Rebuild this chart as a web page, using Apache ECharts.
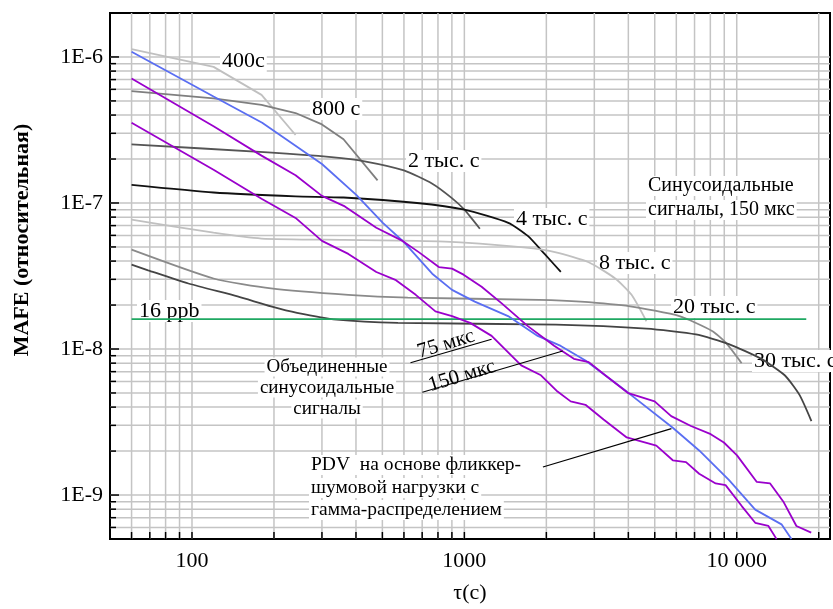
<!DOCTYPE html>
<html>
<head>
<meta charset="utf-8">
<script src="https://cdn.jsdelivr.net/npm/echarts@6/dist/echarts.min.js"></script>
<style>
html,body{margin:0;padding:0;background:#fff;}
#chart{width:833px;height:609px;}
</style>
</head>
<body>
<div id="chart"></div>
<script>
// ---- axis ranges and tick/grid values ----
const X_MIN = 50, X_MAX = 22000;
const Y_MIN = 5e-10, Y_MAX = 2e-6;
const X_GRID = [60,70,80,90,100,200,300,400,500,600,700,800,900,1000,2000,3000,4000,5000,6000,7000,8000,9000,10000,20000];
const Y_GRID = [6e-10,7e-10,8e-10,9e-10,1e-9,2e-9,3e-9,4e-9,5e-9,6e-9,7e-9,8e-9,9e-9,1e-8,2e-8,3e-8,4e-8,5e-8,6e-8,7e-8,8e-8,9e-8,1e-7,2e-7,3e-7,4e-7,5e-7,6e-7,7e-7,8e-7,9e-7,1e-6];
const X_LABELS = {2:'100', 3:'1000', 4:'10 000'};
const Y_LABELS = {'-6':'1E-6','-7':'1E-7','-8':'1E-8','-9':'1E-9'};

// ---- series data: [tau (s), MAFE] ----
const s400 = [[60,1.13e-6],[120,8.55e-7],[180,5.5e-7],[240,2.92e-7]];
const s800 = [[60,5.84e-7],[120,5.2e-7],[180,4.7e-7],[240,4.13e-7],[300,3.45e-7],[360,2.73e-7],[480,1.43e-7]];
const s2k = [[60,2.52e-7],[190,2.22e-7],[325,2.06e-7],[430,1.93e-7],[600,1.67e-7],[760,1.36e-7],[900,1.08e-7],[1000,9.0e-8],[1140,6.66e-8]];
const s4k = [[60,1.33e-7],[120,1.18e-7],[240,1.11e-7],[360,1.09e-7],[670,1.0e-7],[1000,9.0e-8],[1450,7.31e-8],[1710,5.95e-8],[1970,4.48e-8],[2260,3.37e-8]];
const s8k = [[60,7.7e-8],[120,6.26e-8],[180,5.71e-8],[360,5.59e-8],[670,5.5e-8],[1000,5.36e-8],[1650,4.96e-8],[2170,4.59e-8],[2860,3.93e-8],[3580,3.04e-8],[4110,2.35e-8],[4660,1.55e-8]];
const s20k = [[60,4.79e-8],[120,3.04e-8],[195,2.6e-8],[375,2.35e-8],[620,2.25e-8],[1880,2.17e-8],[2670,2.11e-8],[4060,1.96e-8],[6160,1.68e-8],[8120,1.33e-8],[9100,1.11e-8],[10420,8.0e-9]];
const s30k = [[60,3.78e-8],[69,3.46e-8],[97,2.81e-8],[147,2.29e-8],[195,1.96e-8],[243,1.77e-8],[340,1.59e-8],[570,1.51e-8],[2170,1.47e-8],[4660,1.38e-8],[7080,1.26e-8],[9360,1.08e-8],[12300,8.56e-9],[15000,6.61e-9],[17000,4.85e-9],[18800,3.21e-9]];
const ppb16 = [[60,1.6e-8],[18000,1.6e-8]];
const sPDV = [[60,1.085e-6],[120,5.36e-7],[181,3.54e-7],[300,1.85e-7],[401,1.135e-7],[502,7.31e-8],[602,5.36e-8],[762,3.28e-8],[901,2.54e-8],[1092,2.11e-8],[1447,1.68e-8],[1859,1.23e-8],[2259,1.05e-8],[2784,8.34e-9],[3945,5.11e-9],[5823,2.89e-9],[7279,2.02e-9],[9355,1.27e-9],[11690,7.95e-10],[14600,6.3e-10],[15880,5.0e-10]];
const s150us = [[60,7.11e-7],[120,3.35e-7],[180,2.11e-7],[240,1.55e-7],[300,1.118e-7],[364,9.47e-8],[475,6.77e-8],[593,5.5e-8],[682,4.59e-8],[806,3.64e-8],[901,3.55e-8],[993,3.23e-8],[1157,2.67e-8],[1368,2.06e-8],[1710,1.435e-8],[2136,1.052e-8],[2524,8.56e-9],[2862,8.13e-9],[3290,6.61e-9],[4000,4.98e-9],[4995,4.38e-9],[5745,3.47e-9],[6790,2.97e-9],[8027,2.61e-9],[8970,2.29e-9],[10025,1.87e-9],[11850,1.23e-9],[13260,1.2e-9],[14815,9.04e-10],[16560,6.14e-10],[18770,5.53e-10]];
const s75us = [[60,3.54e-7],[120,1.69e-7],[180,1.07e-7],[240,7.9e-8],[300,5.5e-8],[375,4.48e-8],[475,3.37e-8],[561,2.96e-8],[663,2.35e-8],[783,1.81e-8],[901,1.68e-8],[1050,1.51e-8],[1259,1.23e-8],[1617,7.72e-9],[1911,6.61e-9],[2198,5.11e-9],[2456,4.38e-9],[2784,4.15e-9],[3244,3.29e-9],[3945,2.48e-9],[5068,2.18e-9],[5825,1.73e-9],[6514,1.68e-9],[7279,1.4e-9],[8368,1.2e-9],[9100,1.17e-9],[10450,8.37e-10],[11690,6.46e-10],[13070,6.14e-10],[14005,4.99e-10]];

// annotation leader lines (data coordinates)
const lead75 = [[634,8.05e-9],[1259,1.167e-8]];
const lead150 = [[701,5.06e-9],[2297,9.69e-9]];
const leadPDV = [[1943,1.556e-9],[5757,2.85e-9]];

const FONT = 'Liberation Serif';
const GRID_COLOR = '#c4c4c4';

function isDecade(v){ const e = Math.log10(v); return Math.abs(e - Math.round(e)) < 1e-6; }

function gridX(params, api){
  const v = api.value(0);
  const p0 = api.coord([v, Y_MIN]);
  const p1 = api.coord([v, Y_MAX]);
  return {type:'group', children:[
    {type:'line', shape:{x1:p0[0],y1:p0[1],x2:p1[0],y2:p1[1]}, style:{stroke:GRID_COLOR,lineWidth:1.5}},
    {type:'line', shape:{x1:p0[0],y1:p0[1],x2:p0[0],y2:p0[1]-7}, style:{stroke:'#000',lineWidth:1.5}}
  ]};
}
function gridY(params, api){
  const v = api.value(1);
  const p0 = api.coord([X_MIN, v]);
  const p1 = api.coord([X_MAX, v]);
  const len = isDecade(v) ? 9 : 6;
  return {type:'group', children:[
    {type:'line', shape:{x1:p0[0],y1:p0[1],x2:p1[0],y2:p1[1]}, style:{stroke:GRID_COLOR,lineWidth:1.5}},
    {type:'line', shape:{x1:p0[0],y1:p0[1],x2:p0[0]+len,y2:p0[1]}, style:{stroke:'#000',lineWidth:1.5}}
  ]};
}

function lineSeries(data, color, smooth, width){
  return {type:'line', data:data, symbol:'none', smooth:smooth||false, z:4,
    lineStyle:{color:color, width:width||1.8}, silent:true};
}

const chart = echarts.init(document.getElementById('chart'), null, {renderer:'canvas'});

function txt(text, x, y, opts){
  opts = opts || {};
  return {type:'text', z:3, x:x, y:y, rotation:opts.rot||0,
    style:{text:text, fill:'#000', font:(opts.weight||'normal')+' '+(opts.size||20)+'px "'+FONT+'"',
      textAlign:opts.align||'left', textVerticalAlign:'middle',
      backgroundColor:opts.bg===false?null:'#fff', padding:opts.bg===false?0:[0,2]}};
}

const option = {
  animation:false,
  backgroundColor:'#fff',
  grid:{left:110, top:13, width:728, height:536, show:true, borderColor:'#000', borderWidth:2, backgroundColor:'transparent'},
  xAxis:{type:'log', logBase:10, min:X_MIN, max:X_MAX,
    axisLine:{show:true, lineStyle:{color:'#000', width:2}},
    axisTick:{show:false}, splitLine:{show:false}, minorTick:{show:false},
    axisLabel:{margin:11, color:'#000', fontFamily:FONT, fontSize:22,
      formatter:function(v){ if(!isDecade(v)) return ''; return X_LABELS[Math.round(Math.log10(v))] || ''; }},
    name:'τ(с)', nameLocation:'middle', nameGap:43,
    nameTextStyle:{color:'#000', fontFamily:FONT, fontSize:22}
  },
  yAxis:{type:'log', logBase:10, min:Y_MIN, max:Y_MAX,
    axisLine:{show:true, lineStyle:{color:'#000', width:2}},
    axisTick:{show:false}, splitLine:{show:false}, minorTick:{show:false},
    axisLabel:{margin:7, color:'#000', fontFamily:FONT, fontSize:22,
      formatter:function(v){ if(!isDecade(v)) return ''; return Y_LABELS[String(Math.round(Math.log10(v)))] || ''; }}
  },
  graphic:[
    txt('MAFE (относительная)', 22, 240, {rot:Math.PI/2, weight:'bold', size:22, align:'center', bg:false}),
    txt('400с', 220, 61, {size:22}),
    txt('800 с', 310, 109, {size:22}),
    txt('2 тыс. с', 406, 161, {size:22}),
    txt('4 тыс. с', 514, 219, {size:22}),
    txt('8 тыс. с', 597, 263, {size:22}),
    txt('Синусоидальные', 646, 186),
    txt('сигналы, 150 мкс', 646, 210),
    txt('16 ppb', 137, 311, {size:22}),
    txt('20 тыс. с', 671, 307, {size:22}),
    txt('30 тыс. с', 752, 361, {size:22}),
    txt('Объединенные', 327, 367, {align:'center', size:19}),
    txt('синусоидальные', 327, 388, {align:'center', size:19}),
    txt('сигналы', 327, 409, {align:'center', size:19}),
    txt('75 мкс', 446, 344, {align:'center', size:21, rot:17*Math.PI/180, bg:false}),
    txt('150 мкс', 462, 376, {align:'center', size:21, rot:17*Math.PI/180, bg:false}),
    txt('PDV  на основе фликкер-', 309, 465, {size:19.5}),
    txt('шумовой нагрузки с', 309, 488, {size:19.5}),
    txt('гамма-распределением', 309, 510, {size:19.5})
  ],
  series:[
    {type:'custom', coordinateSystem:'cartesian2d', renderItem:gridX, z:1, silent:true, clip:false,
      data:X_GRID.map(function(v){return [v, Y_MIN];})},
    {type:'custom', coordinateSystem:'cartesian2d', renderItem:gridY, z:1, silent:true, clip:false,
      data:Y_GRID.map(function(v){return [X_MIN, v];})},
    lineSeries(s400, '#c0c0c0'),
    lineSeries(s800, '#7f7f7f'),
    lineSeries(s2k, '#555555', 0.2),
    lineSeries(s4k, '#111111', 0.2),
    lineSeries(s8k, '#c0c0c0', 0.2),
    lineSeries(s20k, '#8a8a8a', 0.2),
    lineSeries(s30k, '#444444', 0.2),
    lineSeries(ppb16, '#1fa862'),
    lineSeries(sPDV, '#5a6ef2'),
    lineSeries(s150us, '#9a00cc'),
    lineSeries(s75us, '#9a00cc'),
    lineSeries(lead75, '#000', false, 1.2),
    lineSeries(lead150, '#000', false, 1.2),
    lineSeries(leadPDV, '#000', false, 1.2)
  ]
};
chart.setOption(option);
</script>
</body>
</html>
